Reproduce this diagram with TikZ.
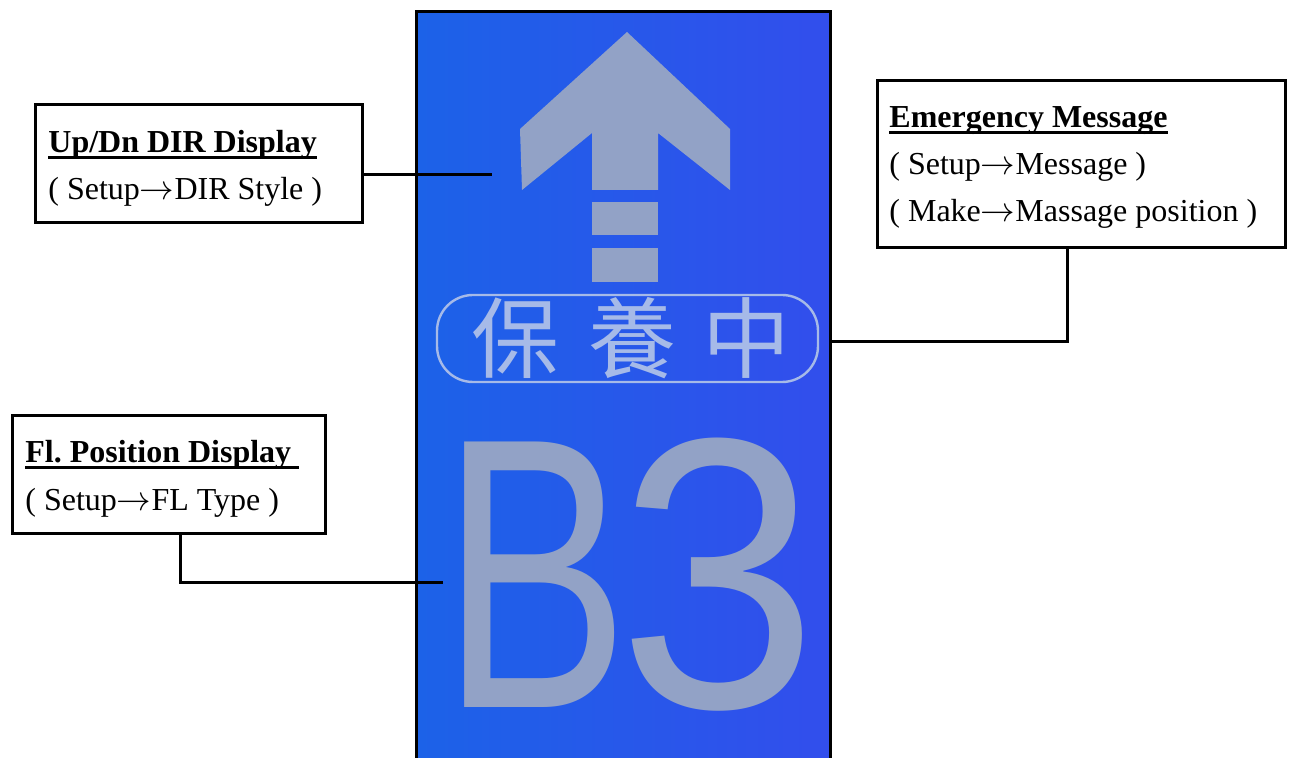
\documentclass[tikz,border=0pt]{standalone}
\usepackage{fontspec}
\usepackage{graphicx}
\setmainfont{Liberation Serif}
\newfontfamily\lcdfont{Liberation Sans}
\newfontfamily\cjkfont{Noto Sans CJK TC}
\newcommand{\ulbar}[1]{\setbox0\hbox{#1}\rlap{\rule[-2.9pt]{\wd0}{1.3pt}}\box0}

\definecolor{lcdleft}{RGB}{28,98,232}
\definecolor{lcdright}{RGB}{50,78,236}
\definecolor{lcdgray}{RGB}{146,162,198}
\definecolor{lcdline}{RGB}{166,186,232}

\begin{document}
\begin{tikzpicture}[x=0.5pt, y=-0.5pt,
        box/.style={draw, line width=1.5pt, inner sep=0pt, anchor=north west},
        wire/.style={line width=1.5pt},
        txt/.style={anchor=base west, inner sep=0pt, font=\fontsize{16}{19}\selectfont},
        cjk/.style={anchor=base, inner sep=0pt, text=lcdline, font=\cjkfont\fontsize{44}{44}\selectfont},
        floor/.style={anchor=base west, inner sep=0pt, text=lcdgray, font=\lcdfont\fontsize{193}{193}\selectfont}]
            \useasboundingbox (0, 0) rectangle (1289, 758);

            % LCD screen
            \fill[left color=lcdleft, right color=lcdright] (416, 12) rectangle (830, 758);
            \draw[wire] (416, 758) -- (416, 12) -- (830, 12) -- (830, 758);

            % up arrow
            \fill[lcdgray] (627, 32) -- (730, 129) -- (730, 190) -- (658, 133) -- (658, 190)
                -- (592, 190) -- (592, 133) -- (522, 190) -- (520, 129) -- cycle;
            \fill[lcdgray] (592, 202) rectangle (658, 235);
            \fill[lcdgray] (592, 248) rectangle (658, 282);

            % message
            \draw[line width=1.2pt, lcdline, rounded corners=18pt] (437, 295) rectangle (818, 382);
            \node[cjk] (bao) at (515, 372) {保};
            \node[cjk] (yang) at (632, 372) {養};
            \node[cjk] (zhong) at (746, 372) {中};

            % floor
            \node[floor] (floornum) at (441, 707) {\scalebox{0.73}[1]{B}\kern-5.5pt\scalebox{0.93}[1]{3}};

            \coordinate (dirpt) at (492, 175);
            \coordinate (msgknee) at (1067, 342);
            \coordinate (msgpt) at (830, 342);
            \coordinate (flknee) at (180, 582);
            \coordinate (flpt) at (443, 582);

            % labels
            \node[box, minimum width=163.5pt, minimum height=59pt] (dirbox) at (34, 103) {};
            \node[txt] (dirhead) at (48, 153) {\bf\ulbar{Up/Dn DIR Display}};
            \node[txt] (dirsub) at (48, 200) {( Setup$\rightarrow$DIR Style )};

            \node[box, minimum width=204pt, minimum height=83.5pt] (msgbox) at (876, 79) {};
            \node[txt] (msghead) at (889, 128) {\bf\ulbar{Emergency Message}};
            \node[txt] (msgsub) at (889, 175) {( Setup$\rightarrow$Message )};
            \node[txt] (msgpos) at (889, 222) {( Make$\rightarrow$Massage position )};

            \node[box, minimum width=156.5pt, minimum height=59pt] (flbox) at (11, 414) {};
            \node[txt] (flhead) at (25, 463) {\bf\ulbar{Fl.\ Position Display\ }};
            \node[txt] (flsub) at (25, 510) {( Setup$\rightarrow$FL Type )};

            \draw[wire] (dirbox.east |- dirpt) -- (dirpt);
            \draw[wire] (msgbox.south -| msgknee) -- (msgknee) -- (msgpt);
            \draw[wire] (flbox.south -| flknee) -- (flknee) -- (flpt);
\end{tikzpicture}
\end{document}
